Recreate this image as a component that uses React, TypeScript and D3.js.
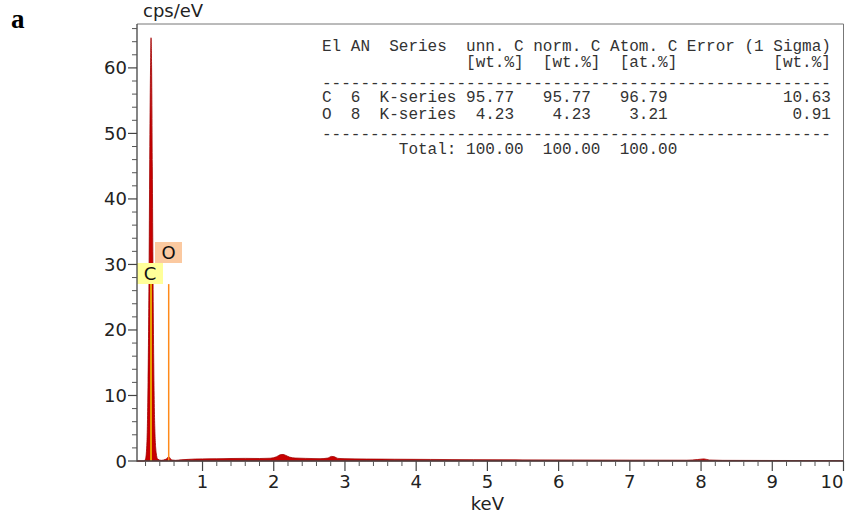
import React, { useRef, useEffect } from 'react';
import * as d3 from 'd3';

// spectrum (keV, cps/eV)
const energies = [0.08, 0.18, 0.2, 0.22, 0.235, 0.25, 0.26, 0.27, 0.277, 0.285, 0.295, 0.305, 0.315, 0.33, 0.35, 0.37, 0.42, 0.48, 0.51, 0.525, 0.54, 0.57, 0.62, 0.7, 0.8, 0.9, 1.0, 1.2, 1.4, 1.6, 1.8, 1.95, 2.04, 2.09, 2.13, 2.17, 2.22, 2.3, 2.45, 2.65, 2.76, 2.81, 2.85, 2.9, 3.0, 3.3, 3.7, 4.2, 4.8, 5.5, 6.2, 7.0, 7.8, 7.95, 8.04, 8.12, 8.3, 9.0, 9.6, 10.0];
const counts = [0, 0, 0.3, 3, 12, 30, 48, 60, 64.6, 60, 45, 28, 15, 5, 1.2, 0.3, 0.1, 0.25, 0.5, 0.7, 0.5, 0.15, 0.1, 0.18, 0.25, 0.3, 0.32, 0.34, 0.38, 0.4, 0.38, 0.42, 0.65, 0.95, 1.0, 0.85, 0.6, 0.45, 0.4, 0.35, 0.45, 0.7, 0.65, 0.4, 0.35, 0.3, 0.27, 0.24, 0.2, 0.17, 0.15, 0.13, 0.12, 0.22, 0.32, 0.15, 0.1, 0.08, 0.07, 0.06];

const xMajorTicks = [1, 2, 3, 4, 5, 6, 7, 8, 9, 10];
const yMajorTicks = [0, 10, 20, 30, 40, 50, 60];

const markerElements = ['C', 'O'];
const markerEnergies = [0.277, 0.525];
const markerHeights = [27.5, 27];
const markerColors = ['#e8a200', '#ff8a1a'];
const labelFills = ['#ffff99', '#fbc9a0'];

const tableElements = ['C', 'O'];
const tableAN = ['6', '8'];
const tableSeries = ['K-series', 'K-series'];
const unnC = ['95.77', '4.23'];
const normC = ['95.77', '4.23'];
const atomC = ['96.79', '3.21'];
const errorSigma = ['10.63', '0.91'];
const totals = ['100.00', '100.00', '100.00'];

const App = () => {
    const ref = useRef<SVGSVGElement | null>(null);

    useEffect(() => {
        if (!ref.current) return;
        const svg = d3.select(ref.current);
        svg.selectAll('*').remove();

        const left = 137, right = 843.5, top = 24, bottom = 461;
        const x = d3.scaleLinear().domain([0.08, 10]).range([left, right]);
        const y = d3.scaleLinear().domain([0, 66.7]).range([bottom, top]);

        const font = 'DejaVu Sans, Verdana, sans-serif';

        svg.append('text')
            .attr('x', 11).attr('y', 28)
            .style('font-family', 'Liberation Serif, Times New Roman, serif')
            .style('font-weight', 'bold')
            .style('font-size', '27px')
            .text('a');

        // spectrum
        const pts = energies.map((e, i) => [e, counts[i]] as [number, number]);
        const area = d3.area<[number, number]>()
            .x(d => x(d[0]))
            .y0(y(0))
            .y1(d => y(d[1]))
            .curve(d3.curveMonotoneX);
        svg.append('path')
            .datum(pts)
            .attr('d', area)
            .attr('fill', '#c80000')
            .attr('stroke', '#a00000')
            .attr('stroke-width', 0.8);

        // element lines
        markerElements.forEach((el, i) => {
            svg.append('line')
                .attr('x1', x(markerEnergies[i])).attr('x2', x(markerEnergies[i]))
                .attr('y1', y(0)).attr('y2', y(markerHeights[i]))
                .attr('stroke', markerColors[i])
                .attr('stroke-width', i === 0 ? 2 : 1.5);
        });

        // label boxes
        const boxes = [
            { x: 137, y: 263, w: 26, h: 21 },
            { x: 155, y: 242, w: 27, h: 21 },
        ];
        markerElements.forEach((el, i) => {
            const b = boxes[i];
            svg.append('rect')
                .attr('x', b.x).attr('y', b.y).attr('width', b.w).attr('height', b.h)
                .attr('fill', labelFills[i]);
            svg.append('text')
                .attr('x', b.x + b.w / 2).attr('y', b.y + 17)
                .attr('text-anchor', 'middle')
                .style('font-family', font).style('font-size', '18px')
                .attr('fill', '#111')
                .text(el);
        });

        // frame
        svg.append('path')
            .attr('d', `M${left},${top}H${right}V${bottom}`)
            .attr('fill', 'none').attr('stroke', '#777').attr('stroke-width', 1);
        svg.append('path')
            .attr('d', `M${left},${top}V${bottom}H${right}`)
            .attr('fill', 'none').attr('stroke', '#444').attr('stroke-width', 1.3);

        // x ticks
        const xMinor = d3.range(0.2, 10.001, 0.2).filter(v => Math.abs(v - Math.round(v)) > 1e-6);
        svg.append('g').selectAll('line.xm').data(xMinor).join('line')
            .attr('x1', d => x(d)).attr('x2', d => x(d))
            .attr('y1', bottom).attr('y2', bottom + 5)
            .attr('stroke', '#555');
        svg.append('g').selectAll('line.xM').data(xMajorTicks).join('line')
            .attr('x1', d => x(d)).attr('x2', d => x(d))
            .attr('y1', bottom).attr('y2', bottom + 10)
            .attr('stroke', '#444').attr('stroke-width', 1.2);
        svg.append('g').selectAll('text').data(xMajorTicks).join('text')
            .attr('x', d => x(d))
            .attr('y', 488)
            .attr('text-anchor', d => (d === 10 ? 'end' : 'middle'))
            .style('font-family', font).style('font-size', '18px')
            .attr('fill', '#222')
            .text(d => d);

        // y ticks
        const yMinor = d3.range(2, 66.01, 2).filter(v => v % 10 !== 0);
        svg.append('g').selectAll('line').data(yMinor).join('line')
            .attr('x1', left - 5).attr('x2', left)
            .attr('y1', d => y(d)).attr('y2', d => y(d))
            .attr('stroke', '#555');
        svg.append('g').selectAll('line').data(yMajorTicks).join('line')
            .attr('x1', left - 9).attr('x2', left)
            .attr('y1', d => y(d)).attr('y2', d => y(d))
            .attr('stroke', '#444').attr('stroke-width', 1.2);
        svg.append('g').selectAll('text').data(yMajorTicks).join('text')
            .attr('x', left - 10)
            .attr('y', d => y(d) + 6.5)
            .attr('text-anchor', 'end')
            .style('font-family', font).style('font-size', '18px')
            .attr('fill', '#222')
            .text(d => d);

        svg.append('text')
            .attr('x', 143).attr('y', 17)
            .style('font-family', font).style('font-size', '18px')
            .attr('fill', '#222')
            .text('cps/eV');
        svg.append('text')
            .attr('x', x(5)).attr('y', 510)
            .attr('text-anchor', 'middle')
            .style('font-family', font).style('font-size', '18px')
            .attr('fill', '#222')
            .text('keV');

        // quantification table
        const dashes = '-'.repeat(53);
        const lines: [string, number][] = [
            ['El AN  Series  unn. C norm. C Atom. C Error (1 Sigma)', 51],
            [' '.repeat(15) + '[wt.%]' + '  [wt.%]' + '  [at.%]' + '[wt.%]'.padStart(16), 67],
            [dashes, 88],
            ...tableElements.map((el, i) => [
                el.padEnd(3) + tableAN[i].padEnd(3) + tableSeries[i].padEnd(8) +
                unnC[i].padStart(6) + normC[i].padStart(8) + atomC[i].padStart(8) +
                errorSigma[i].padStart(17),
                102 + i * 17,
            ] as [string, number]),
            [dashes, 139],
            [' '.repeat(8) + 'Total:' + totals[0].padStart(7) + totals[1].padStart(8) + totals[2].padStart(8), 154],
        ];
        svg.append('g').selectAll('text').data(lines).join('text')
            .attr('x', 322)
            .attr('y', d => d[1])
            .attr('xml:space', 'preserve')
            .style('white-space', 'pre')
            .style('font-family', 'Liberation Mono, Courier New, monospace')
            .style('font-size', '16px')
            .attr('fill', '#333')
            .text(d => d[0]);
    }, []);

    return (
        <svg ref={ref} width={847} height={517}
            style={{ position: 'absolute', left: 0, top: 0, background: '#fff' }} />
    );
};

export default App;
